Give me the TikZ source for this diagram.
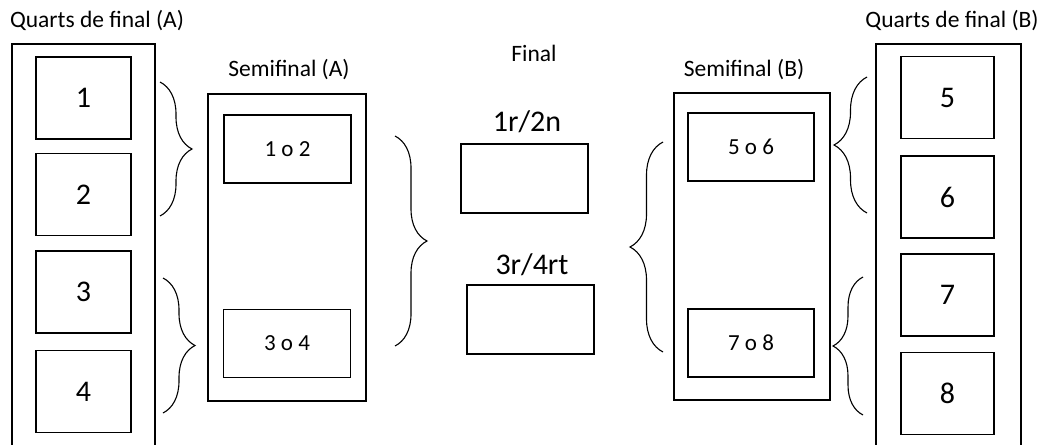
\documentclass[tikz,border=0pt]{standalone}
\usepackage{fontspec}
\setmainfont{Carlito}
\usetikzlibrary{decorations.pathreplacing}
\begin{document}
\begin{tikzpicture}[x=1pt,y=-1pt,
  every node/.style={inner sep=0pt, outer sep=0pt},
  ttl/.style={font=\fontsize{23.5}{28}\selectfont},
  big/.style={font=\fontsize{30}{36}\selectfont},
  qbox/.style={draw, line width=1.1pt, minimum width=95, minimum height=82, font=\fontsize{30}{36}\selectfont},
  sbox/.style={draw, line width=1.1pt, minimum width=127, minimum height=68, font=\fontsize{23}{28}\selectfont},
  cont/.style={draw, line width=1.1pt},
  brc/.style={line width=1.1pt, decorate, decoration={brace, amplitude=#1}}
]
\useasboundingbox (0,0) rectangle (1048,444);
% titles
\node[ttl] (tqa) at (97,21) {Quarts de final (A)};
\node[ttl] (tsa) at (289,70) {Semifinal (A)};
\node[ttl] (tf) at (534,53) {Final};
\node[ttl] (tsb) at (744,70) {Semifinal (B)};
\node[ttl] (tqb) at (952,21) {Quarts de final (B)};
% quarter-final containers (open at the bottom)
\draw[line width=1.1pt] (12,460) -- (12,44) -- (155,44) -- (155,460);
\draw[line width=1.1pt] (876,460) -- (876,44) -- (1021,44) -- (1021,460);
% quarter-final boxes A
\node[qbox] (q1) at (83.5,98) {1};
\node[qbox] (q2) at (83.5,194.5) {2};
\node[qbox] (q3) at (83.5,292) {3};
\node[qbox] (q4) at (83.5,391.5) {4};
% quarter-final boxes B
\node[qbox, minimum width=93] (q5) at (947.5,97.5) {5};
\node[qbox, minimum width=93] (q6) at (947.5,197) {6};
\node[qbox, minimum width=93] (q7) at (947.5,295) {7};
\node[qbox, minimum width=93] (q8) at (947.5,393.5) {8};
% semifinal containers
\node[cont, minimum width=158, minimum height=307] (semA) at (287,247.5) {};
\node[cont, minimum width=156, minimum height=307] (semB) at (752,246.5) {};
% semifinal boxes
\node[sbox] (s12) at (287.5,149) {1 o 2};
\node[sbox] (s34) at (287,343.5) {3 o 4};
\node[sbox, minimum width=126] (s56) at (751,147) {5 o 6};
\node[sbox, minimum width=126] (s78) at (751,343) {7 o 8};
% final
\node[big] (l1) at (527,122) {1r/2n};
\node[big] (l2) at (532,265) {3r/4rt};
\node[sbox, minimum height=69] (f1) at (524.5,178.5) {};
\node[sbox, minimum height=69] (f2) at (530.5,319.5) {};
% brace end points
\coordinate (b12a) at (160,82);  \coordinate (b12b) at (160,216);
\coordinate (b34a) at (163,278); \coordinate (b34b) at (163,413);
\coordinate (bAa) at (395,136);  \coordinate (bAb) at (395,346);
\coordinate (bBa) at (663,352);  \coordinate (bBb) at (663,142);
\coordinate (b56a) at (867,213); \coordinate (b56b) at (867,77);
\coordinate (b78a) at (863,415); \coordinate (b78b) at (863,277);
% braces
\draw[brc=32] (b12a) -- (b12b);
\draw[brc=32] (b34a) -- (b34b);
\draw[brc=32] (bAa) -- (bAb);
\draw[brc=33] (bBa) -- (bBb);
\draw[brc=33] (b56a) -- (b56b);
\draw[brc=30] (b78a) -- (b78b);
\end{tikzpicture}
\end{document}
